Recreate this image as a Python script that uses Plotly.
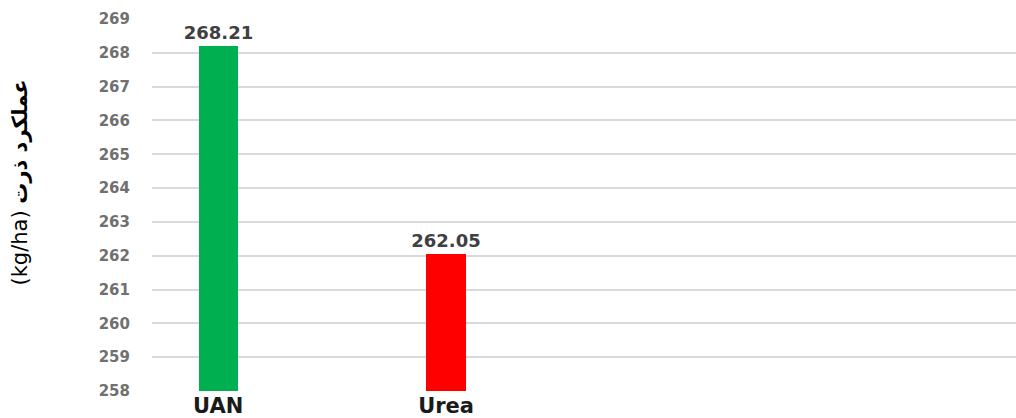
import plotly.graph_objects as go

categories = ["UAN", "Urea"]
values = [268.21, 262.05]
colors = ["#00b050", "#ff0000"]
y_ticks = list(range(258, 270))
y_title = "(kg/ha) <b>عملکرد ذرت</b>"

fig = go.Figure()
fig.add_trace(go.Bar(
    x=[0, 1], y=values, marker=dict(color=colors, line=dict(width=0)),
    width=0.172,
    text=[f"<b>{v:.2f}</b>" for v in values], textposition="outside",
    textfont=dict(family="DejaVu Sans", size=18, color="#404040"),
    constraintext="none",
    cliponaxis=False,
))

fig.update_layout(
    width=1016, height=418,
    margin=dict(l=152, r=0, t=19, b=27),
    plot_bgcolor="white", paper_bgcolor="white",
    showlegend=False,
    xaxis=dict(range=[-0.29, 3.5], tickvals=[0, 1], ticktext=[f"<b>{c}</b>" for c in categories],
               tickfont=dict(family="DejaVu Sans", size=21, color="#1a1a1a"),
               showgrid=False, zeroline=False, showline=False, ticks="", ticklen=0,
               ticklabelstandoff=0, automargin=False),
    yaxis=dict(range=[258, 269], tickvals=y_ticks, ticktext=[f"<b>{t}</b>" for t in y_ticks],
               tickfont=dict(family="DejaVu Sans", size=15, color="#707070"),
               showgrid=True, gridcolor="#d9d9d9", gridwidth=1.5, zeroline=False,
               showline=False, ticks="", ticklabelstandoff=21, automargin=False),
    annotations=[dict(
        text=y_title, textangle=-90, xref="paper", yref="paper",
        x=-0.153, y=0.56, xanchor="center", yanchor="middle", showarrow=False,
        font=dict(family="DejaVu Sans", size=21, color="#000000"),
    )],
    bargap=0,
)

fig.write_html("out.html")
